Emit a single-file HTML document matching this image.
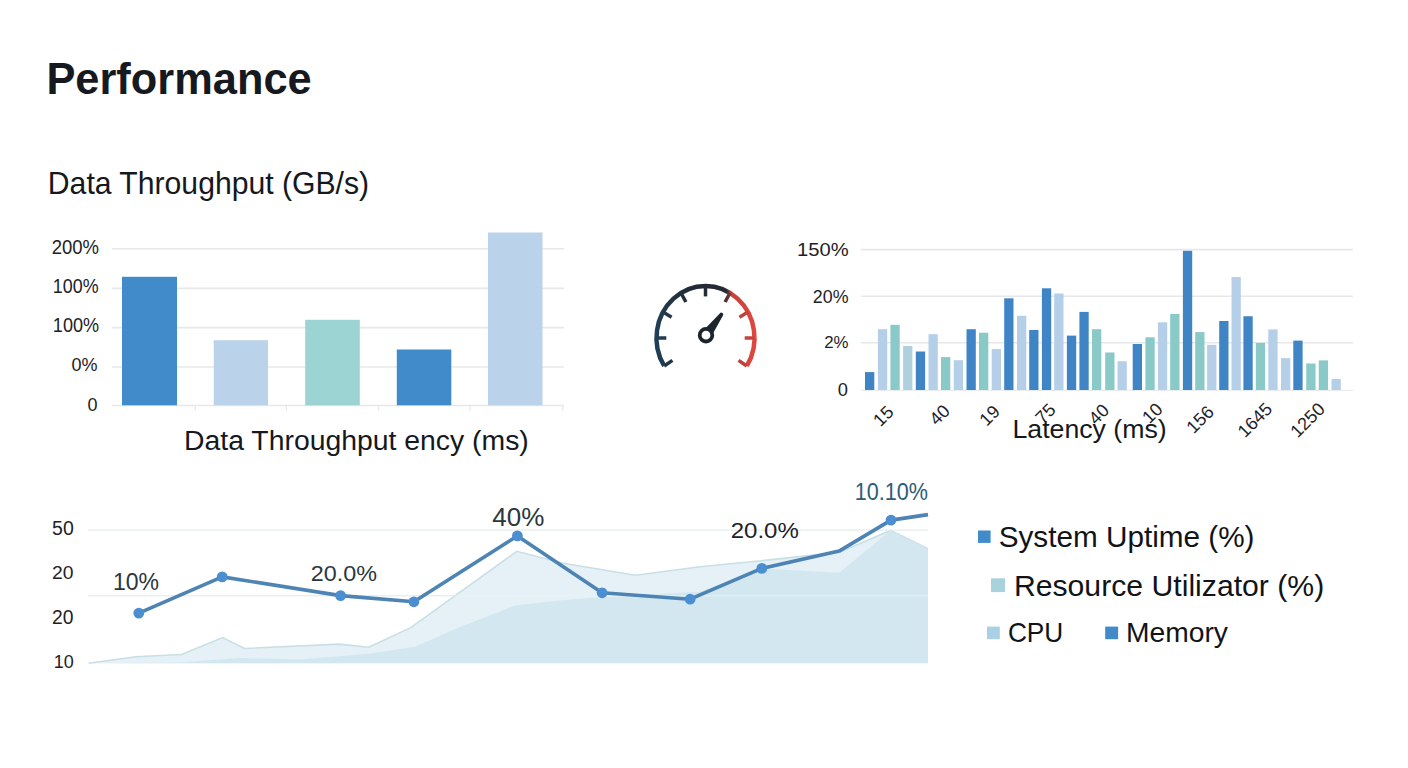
<!DOCTYPE html>
<html><head><meta charset="utf-8"><title>Performance</title>
<style>
html,body{margin:0;padding:0;background:#fff;}
body{width:1408px;height:768px;overflow:hidden;}
svg{display:block;font-family:"Liberation Sans",Arial,sans-serif;}
</style></head><body>
<svg width="1408" height="768" viewBox="0 0 1408 768">
<rect width="1408" height="768" fill="#fff"/>
<line x1="112" y1="248.8" x2="564" y2="248.8" stroke="#e6e8ea" stroke-width="1.6"/>
<line x1="112" y1="288.4" x2="564" y2="288.4" stroke="#e6e8ea" stroke-width="1.6"/>
<line x1="112" y1="327.6" x2="564" y2="327.6" stroke="#e6e8ea" stroke-width="1.6"/>
<line x1="112" y1="367.0" x2="564" y2="367.0" stroke="#e6e8ea" stroke-width="1.6"/>
<line x1="112" y1="405.5" x2="564" y2="405.5" stroke="#e6e8e9" stroke-width="1.4"/>
<line x1="195.3" y1="405.5" x2="195.3" y2="410.5" stroke="#e6e7e8" stroke-width="1.2"/>
<line x1="286.4" y1="405.5" x2="286.4" y2="410.5" stroke="#e6e7e8" stroke-width="1.2"/>
<line x1="378.6" y1="405.5" x2="378.6" y2="410.5" stroke="#e6e7e8" stroke-width="1.2"/>
<line x1="469.8" y1="405.5" x2="469.8" y2="410.5" stroke="#e6e7e8" stroke-width="1.2"/>
<line x1="562.8" y1="405.5" x2="562.8" y2="410.5" stroke="#e6e7e8" stroke-width="1.2"/>
<rect x="122" y="276.8" width="55.00" height="128.50" fill="#428bca"/>
<rect x="213.75" y="340.2" width="54.25" height="65.10" fill="#bad3eb"/>
<rect x="305.2" y="319.8" width="54.60" height="85.50" fill="#9cd4d4"/>
<rect x="396.8" y="349.5" width="54.50" height="55.80" fill="#428bca"/>
<rect x="488" y="232.5" width="54.50" height="172.80" fill="#bad3eb"/>
<line x1="861" y1="249.6" x2="1353" y2="249.6" stroke="#e6e8ea" stroke-width="1.6"/>
<line x1="861" y1="296.2" x2="1353" y2="296.2" stroke="#e6e8ea" stroke-width="1.6"/>
<line x1="861" y1="342.8" x2="1353" y2="342.8" stroke="#e6e8ea" stroke-width="1.6"/>
<line x1="861" y1="390.3" x2="1353" y2="390.3" stroke="#e9ebec" stroke-width="1.2"/>
<rect x="865" y="372.1" width="9.3" height="17.90" fill="#3f85c5"/>
<rect x="877.9" y="329.2" width="9.3" height="60.80" fill="#b6cfe9"/>
<rect x="890.4" y="324.8" width="9.3" height="65.20" fill="#89cac8"/>
<rect x="903.1" y="346" width="9.3" height="44.00" fill="#aed0df"/>
<rect x="915.8" y="351.5" width="9.3" height="38.50" fill="#3f85c5"/>
<rect x="928.5" y="334.2" width="9.3" height="55.80" fill="#b6cfe9"/>
<rect x="941" y="357.1" width="9.3" height="32.90" fill="#89cac8"/>
<rect x="953.75" y="360.2" width="9.3" height="29.80" fill="#b6cfe9"/>
<rect x="966.5" y="329.2" width="9.3" height="60.80" fill="#3f85c5"/>
<rect x="979" y="332.7" width="9.3" height="57.30" fill="#89cac8"/>
<rect x="991.7" y="349" width="9.3" height="41.00" fill="#b6cfe9"/>
<rect x="1004.2" y="298.3" width="9.3" height="91.70" fill="#3f85c5"/>
<rect x="1017" y="315.8" width="9.3" height="74.20" fill="#b6cfe9"/>
<rect x="1029.2" y="330" width="9.3" height="60.00" fill="#3f85c5"/>
<rect x="1041.9" y="288.3" width="9.3" height="101.70" fill="#3f85c5"/>
<rect x="1054.2" y="293.5" width="9.3" height="96.50" fill="#b6cfe9"/>
<rect x="1066.9" y="335.6" width="9.3" height="54.40" fill="#3f85c5"/>
<rect x="1079.4" y="311.9" width="9.3" height="78.10" fill="#3f85c5"/>
<rect x="1092" y="329.2" width="9.3" height="60.80" fill="#89cac8"/>
<rect x="1105.2" y="352.5" width="9.3" height="37.50" fill="#89cac8"/>
<rect x="1117.5" y="361.25" width="9.3" height="28.75" fill="#b6cfe9"/>
<rect x="1132.7" y="344" width="9.3" height="46.00" fill="#3f85c5"/>
<rect x="1145.4" y="337.3" width="9.3" height="52.70" fill="#89cac8"/>
<rect x="1157.9" y="322.3" width="9.3" height="67.70" fill="#b6cfe9"/>
<rect x="1170.2" y="314" width="9.3" height="76.00" fill="#89cac8"/>
<rect x="1182.9" y="250.8" width="9.3" height="139.20" fill="#3f85c5"/>
<rect x="1195.2" y="332.1" width="9.3" height="57.90" fill="#89cac8"/>
<rect x="1207.1" y="344.8" width="9.3" height="45.20" fill="#b6cfe9"/>
<rect x="1219.2" y="321" width="9.3" height="69.00" fill="#3f85c5"/>
<rect x="1231.5" y="277.1" width="9.3" height="112.90" fill="#b6cfe9"/>
<rect x="1243.4" y="316.25" width="9.3" height="73.75" fill="#3f85c5"/>
<rect x="1255.8" y="342.9" width="9.3" height="47.10" fill="#89cac8"/>
<rect x="1268.3" y="329.4" width="9.3" height="60.60" fill="#b6cfe9"/>
<rect x="1281" y="358.1" width="9.3" height="31.90" fill="#b6cfe9"/>
<rect x="1293.3" y="340.6" width="9.3" height="49.40" fill="#3f85c5"/>
<rect x="1306.25" y="363.5" width="9.3" height="26.50" fill="#89cac8"/>
<rect x="1318.75" y="360.4" width="9.3" height="29.60" fill="#89cac8"/>
<rect x="1331.5" y="379" width="9.3" height="11.00" fill="#b6cfe9"/>
<text transform="translate(887.65,420.35) rotate(-45)" text-anchor="middle" font-size="18" fill="#1e2226">15</text>
<text transform="translate(943.95,419.25) rotate(-45)" text-anchor="middle" font-size="18" fill="#1e2226">40</text>
<text transform="translate(993.90,419.80) rotate(-45)" text-anchor="middle" font-size="18" fill="#1e2226">19</text>
<text transform="translate(1049.80,418.00) rotate(-45)" text-anchor="middle" font-size="18" fill="#1e2226">75</text>
<text transform="translate(1103.20,418.60) rotate(-45)" text-anchor="middle" font-size="18" fill="#1e2226">40</text>
<text transform="translate(1156.70,417.45) rotate(-45)" text-anchor="middle" font-size="18" fill="#1e2226">10</text>
<text transform="translate(1204.35,423.80) rotate(-45)" text-anchor="middle" font-size="18" fill="#1e2226">156</text>
<text transform="translate(1259.20,424.35) rotate(-45)" text-anchor="middle" font-size="18" fill="#1e2226">1645</text>
<text transform="translate(1311.85,424.40) rotate(-45)" text-anchor="middle" font-size="18" fill="#1e2226">1250</text>
<defs><linearGradient id="gg" x1="655" y1="0" x2="757" y2="0" gradientUnits="userSpaceOnUse"><stop offset="0" stop-color="#1f4057"/><stop offset="0.14" stop-color="#233545"/><stop offset="0.35" stop-color="#212b37"/><stop offset="0.70" stop-color="#242933"/><stop offset="0.745" stop-color="#c4423b"/><stop offset="1" stop-color="#e0483e"/></linearGradient><linearGradient id="gt" x1="655" y1="0" x2="757" y2="0" gradientUnits="userSpaceOnUse"><stop offset="0" stop-color="#1f4057"/><stop offset="0.14" stop-color="#233545"/><stop offset="0.35" stop-color="#212b37"/><stop offset="0.66" stop-color="#2a2a31"/><stop offset="0.74" stop-color="#7a3434"/><stop offset="0.8" stop-color="#b8413b"/><stop offset="1" stop-color="#cc453d"/></linearGradient></defs>
<path d="M664.17,365.94 A49.0,52.0 0 1 1 746.83,365.94" fill="none" stroke="url(#gg)" stroke-width="4.5"/>
<line x1="664.17" y1="365.94" x2="672.44" y2="360.35" stroke="url(#gt)" stroke-width="3.5"/>
<line x1="656.50" y1="338.00" x2="666.30" y2="338.00" stroke="url(#gt)" stroke-width="3.5"/>
<line x1="663.06" y1="312.00" x2="671.55" y2="317.20" stroke="url(#gt)" stroke-width="3.5"/>
<line x1="681.00" y1="292.97" x2="685.90" y2="301.97" stroke="url(#gt)" stroke-width="3.5"/>
<line x1="705.50" y1="286.00" x2="705.50" y2="296.40" stroke="url(#gt)" stroke-width="3.5"/>
<line x1="730.00" y1="292.97" x2="725.10" y2="301.97" stroke="url(#gt)" stroke-width="3.5"/>
<line x1="747.94" y1="312.00" x2="739.45" y2="317.20" stroke="url(#gt)" stroke-width="3.5"/>
<line x1="754.50" y1="338.00" x2="744.70" y2="338.00" stroke="url(#gt)" stroke-width="3.5"/>
<line x1="746.83" y1="365.94" x2="738.56" y2="360.35" stroke="url(#gt)" stroke-width="3.5"/>
<path d="M704.53,329.13 L719.77,313.47 A1.9 1.9 0 0 1 722.83,315.73 L712.24,334.85 Z" fill="#1c252e"/>
<circle cx="706.0" cy="335.2" r="6.3" fill="#fff" stroke="#1c252e" stroke-width="3.8"/>
<line x1="88" y1="530.2" x2="928" y2="530.2" stroke="#e6e8e9" stroke-width="1.3"/>
<line x1="88" y1="595.7" x2="928" y2="595.7" stroke="#e6e8e9" stroke-width="1.3"/>
<path d="M88.6,663.3 L135.7,656.7 L181.6,654.5 L222.6,637.6 L244.4,648.5 L339.8,644.1 L368.7,647.3 L410.7,627.6 L516.8,551.3 L562,563 L635.5,575.2 L700,566.7 L764.6,560.4 L839,552.4 L890.6,530.5 L928,548.8 L928,663.3 Z" fill="#e5f1f6" stroke="none"/>
<path d="M88.6,663.3 L135.7,656.7 L181.6,654.5 L222.6,637.6 L244.4,648.5 L339.8,644.1 L368.7,647.3 L410.7,627.6 L516.8,551.3 L562,563 L635.5,575.2 L700,566.7 L764.6,560.4 L839,552.4 L890.6,530.5 L928,548.8" fill="none" stroke="#c8dfe5" stroke-width="1.6"/>
<path d="M88.6,663.3 L180,662.5 L240,658 L300,659.5 L368.7,653.8 L415,646.8 L460,627 L515,605.6 L560,600.5 L591.8,597.8 L700,591.8 L761.9,568.4 L789.4,570.1 L839.1,572.8 L890.6,530.5 L928,548.8 L928,663.3 Z" fill="#d3e7f0" stroke="none"/>
<line x1="88" y1="530.2" x2="928" y2="530.2" stroke="#eef3f5" stroke-opacity="0.45" stroke-width="1.5"/>
<line x1="88" y1="595.7" x2="928" y2="595.7" stroke="#eef3f5" stroke-opacity="0.45" stroke-width="1.5"/>
<polyline points="138.8,613.1 222.2,576.9 340.6,595.6 413.9,601.8 517.4,535.9 602.1,592.8 690.1,599.2 761.8,568.4 839.1,551.1 891,520.1 928,514.6" fill="none" stroke="#4d84b4" stroke-width="3.6" stroke-linejoin="round"/>
<circle cx="138.8" cy="613.1" r="5.4" fill="#4b8fd1"/>
<circle cx="222.2" cy="576.9" r="5.4" fill="#4b8fd1"/>
<circle cx="340.6" cy="595.6" r="5.4" fill="#4b8fd1"/>
<circle cx="413.9" cy="601.8" r="5.4" fill="#4b8fd1"/>
<circle cx="517.4" cy="535.9" r="5.4" fill="#4b8fd1"/>
<circle cx="602.1" cy="592.8" r="5.4" fill="#4b8fd1"/>
<circle cx="690.1" cy="599.2" r="5.4" fill="#4b8fd1"/>
<circle cx="761.8" cy="568.4" r="5.4" fill="#4b8fd1"/>
<circle cx="891" cy="520.1" r="5.4" fill="#4b8fd1"/>
<rect x="978" y="530.5" width="12.6" height="12.4" fill="#428bca"/>
<rect x="991" y="578.3" width="14" height="13.8" fill="#a8d3dc"/>
<rect x="987" y="626.6" width="12.8" height="12.6" fill="#a9d0e4"/>
<rect x="1105.2" y="626.6" width="12.9" height="12.6" fill="#428bca"/>
<text transform="translate(46.40,93.50) scale(0.9660,1)" font-size="44.93" font-weight="bold" fill="#161a20">Performance</text>
<text transform="translate(47.84,194.00) scale(0.9503,1)" font-size="31.74" font-weight="normal" fill="#15181c">Data Throughput (GB/s)</text>
<text transform="translate(51.67,253.80) scale(0.9532,1)" font-size="19.43" font-weight="normal" fill="#1e2226">200%</text>
<text transform="translate(52.85,293.20) scale(0.9148,1)" font-size="19.57" font-weight="normal" fill="#1e2226">100%</text>
<text transform="translate(52.84,332.20) scale(0.9370,1)" font-size="19.28" font-weight="normal" fill="#1e2226">100%</text>
<text transform="translate(71.41,371.30) scale(1.0000,1)" font-size="18.00" font-weight="normal" fill="#1e2226">0%</text>
<text transform="translate(87.54,410.70) scale(1.0000,1)" font-size="18.00" font-weight="normal" fill="#1e2226">0</text>
<text transform="translate(184.03,449.70) scale(0.9941,1)" font-size="28.55" font-weight="normal" fill="#15181c">Data Throughput ency (ms)</text>
<text transform="translate(796.99,255.90) scale(1.0627,1)" font-size="18.99" font-weight="normal" fill="#1e2226">150%</text>
<text transform="translate(812.81,302.60) scale(1.0073,1)" font-size="17.71" font-weight="normal" fill="#1e2226">20%</text>
<text transform="translate(824.16,347.70) scale(0.9903,1)" font-size="17.00" font-weight="normal" fill="#1e2226">2%</text>
<text transform="translate(837.65,395.50) scale(1.0000,1)" font-size="18.29" font-weight="normal" fill="#1e2226">0</text>
<text transform="translate(1012.46,438.00) scale(1.0175,1)" font-size="26.23" font-weight="normal" fill="#15181c">Latency (ms)</text>
<text transform="translate(52.12,535.20) scale(0.9964,1)" font-size="19.57" font-weight="normal" fill="#1e2226">50</text>
<text transform="translate(51.94,579.20) scale(1.0232,1)" font-size="18.86" font-weight="normal" fill="#1e2226">20</text>
<text transform="translate(51.94,624.40) scale(0.9931,1)" font-size="19.43" font-weight="normal" fill="#1e2226">20</text>
<text transform="translate(53.74,668.10) scale(0.9475,1)" font-size="18.99" font-weight="normal" fill="#1e2226">10</text>
<text transform="translate(112.89,589.50) scale(0.9687,1)" font-size="23.77" font-weight="normal" fill="#2b3640">10%</text>
<text transform="translate(310.73,580.60) scale(1.0476,1)" font-size="22.29" font-weight="normal" fill="#2b3640">20.0%</text>
<text transform="translate(492.28,525.90) scale(1.0063,1)" font-size="25.86" font-weight="normal" fill="#2b3640">40%</text>
<text transform="translate(730.70,537.50) scale(1.0777,1)" font-size="22.29" font-weight="normal" fill="#1e2226">20.0%</text>
<text transform="translate(854.79,499.50) scale(0.9086,1)" font-size="23.77" font-weight="normal" fill="#2d5b78">10.10%</text>
<text transform="translate(998.71,547.20) scale(0.9997,1)" font-size="29.72" font-weight="normal" fill="#111417">System Uptime (%)</text>
<text transform="translate(1013.88,595.90) scale(1.0024,1)" font-size="30.14" font-weight="normal" fill="#111417">Resource Utilizator (%)</text>
<text transform="translate(1007.89,642.30) scale(0.9469,1)" font-size="27.71" font-weight="normal" fill="#111417">CPU</text>
<text transform="translate(1126.04,642.30) scale(1.0042,1)" font-size="28.12" font-weight="normal" fill="#111417">Memory</text>
</svg>
</body></html>
